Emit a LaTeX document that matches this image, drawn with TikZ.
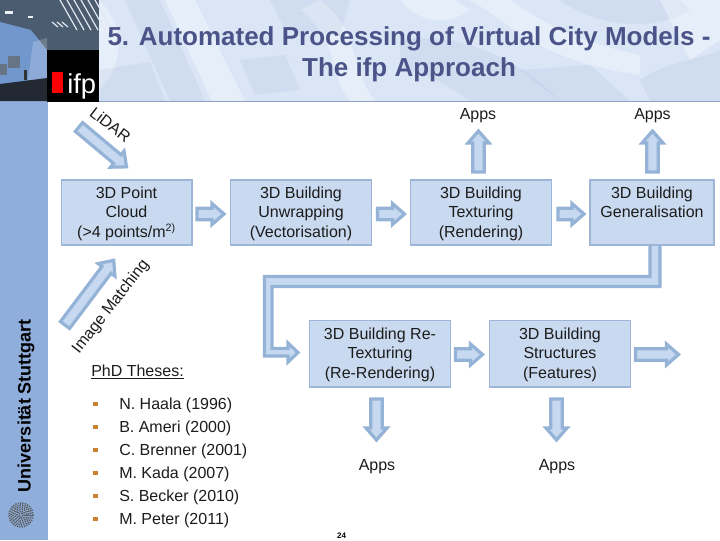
\documentclass[tikz,border=0pt]{standalone}
\usepackage{fontspec}
\setmainfont{Liberation Sans}
\definecolor{boxfill}{HTML}{C9D9EF}
\definecolor{boxline}{HTML}{9DB5D6}
\definecolor{arrfill}{HTML}{C6D9F1}
\definecolor{arrline}{HTML}{95B3D7}
\definecolor{side}{HTML}{8FAEDB}
\definecolor{banner}{HTML}{DAE5F6}
\definecolor{titlec}{HTML}{4B5488}
\definecolor{bul}{HTML}{C98232}
\definecolor{txt}{HTML}{1C1C1C}
\definecolor{ceil}{HTML}{4C5C70}
\definecolor{wall}{HTML}{7197CC}
\tikzset{
  stagebox/.style={draw=boxline,fill=boxfill,line width=1pt,inner sep=0pt},
  stagetext/.style={inner sep=0pt,align=center,text=txt,font=\fontsize{12}{14.6}\selectfont},
  lbl/.style={text=txt,inner sep=0pt,font=\fontsize{12}{14.6}\selectfont},
  arrowsty/.style={draw=arrline,fill=arrfill,line width=2.4pt,miter limit=4},
  bulletdot/.style={fill=bul,minimum size=3.6pt,inner sep=0pt},
  nameitem/.style={lbl,anchor=west},
  texa/.style={fill=white,opacity=.35,draw=none},
  texb/.style={fill=boxline,opacity=.16,draw=none},
}
% tail x, tail y, angle, length: straight block arrow
\newcommand{\blockarrow}[4]{%
  \draw[arrowsty,shift={(#1,#2)},rotate=#3]
    (0,-5.7) -- ({#4-12},-5.7) -- ({#4-12},-10.5) -- (#4,0) -- ({#4-12},10.5) -- ({#4-12},5.7) -- (0,5.7) -- cycle;}
% name, x, y, width (pt), height (pt), text
\newcommand{\stagenode}[6]{%
  \node[stagebox,minimum width=#4pt,minimum height=#5pt] (#1) at (#2,#3) {};
  \node[stagetext] (#1-text) at ([yshift=-0.75pt]#1.center) {#6};}
\begin{document}
\begin{tikzpicture}[x=0.75pt,y=-0.75pt]
\useasboundingbox (0,0) rectangle (720,540);
\fill[white] (0,0) rectangle (720,540);
% side strip
\fill[side] (0,101) rectangle (48,540);
% banner
\fill[banner] (99,0) rectangle (720,101);
\begin{scope}
\clip (99,0) rectangle (720,101);
\fill[texa] (165,0) -- (195,0) -- (245,101) -- (212,101) -- cycle;
\fill[texa] (99,0) .. controls (130,30) and (120,70) .. (99,90) -- cycle;
\fill[texb] (125,0) -- (160,0) -- (205,101) -- (170,101) -- cycle;
\fill[texb] (100,70) -- (150,62) -- (165,101) -- (100,101) -- cycle;
\fill[texb] (240,60) -- (285,55) -- (300,90) -- (255,95) -- cycle;
\fill[texa] (300,10) .. controls (340,40) and (330,80) .. (350,101) -- (375,101) .. controls (350,70) and (360,30) .. (320,0) -- cycle;
\fill[texb] (270,0) -- (350,0) -- (340,35) -- (285,30) -- cycle;
\fill[texb] (400,40) .. controls (460,30) and (520,60) .. (560,101) -- (470,101) .. controls (440,80) and (420,70) .. (400,70) -- cycle;
\fill[texa] (470,0) .. controls (520,30) and (540,60) .. (640,75) -- (640,55) .. controls (570,40) and (540,20) .. (510,0) -- cycle;
\fill[texb] (560,0) .. controls (600,30) and (660,30) .. (690,10) -- (680,0) -- cycle;
\fill[texa] (660,0) -- (720,0) -- (720,40) -- (690,60) -- cycle;
\fill[texb] (640,80) .. controls (670,60) and (700,60) .. (720,50) -- (720,101) -- (650,101) -- cycle;
\fill[texa] (400,0) .. controls (420,25) and (450,25) .. (470,10) -- (455,0) -- cycle;
\fill[texb] (520,70) -- (590,65) -- (630,101) -- (560,101) -- cycle;
\end{scope}
\draw[color=boxline!80!titlec,line width=.8pt] (48,101.5) -- (720,101.5);
% photo
\fill[ceil] (0,0) rectangle (99,101);
\fill[wall] (0,22) -- (31,30) -- (47,50) -- (47,82) -- (0,93) -- cycle;
\fill[white,opacity=.2] (33,42) -- (47,38) -- (47,80) -- (28,80) -- cycle;
\fill[color=black!55!ceil] (0,84) -- (47,78) -- (47,101) -- (0,101) -- cycle;
\fill[color=ceil!85!white] (8,56) rectangle (20,68);
\fill[color=ceil!85!white] (0,64) rectangle (7,75);
\fill[black!80] (24,70) rectangle (27,80);
\foreach \a in {60,67,74,81,88,95}
  \draw[white!70!boxline,line width=.9pt] (\a,0) -- ({\a+17},30);
\foreach \a in {52,57,62}
  \draw[white!70!boxline,line width=.9pt] (\a,22) -- ({\a+6},27);
\fill[white!80!boxline] (5,11) rectangle (13,13.5);
\fill[white!80!boxline] (28,16) rectangle (33,18);
% logo
\fill[black] (47,50) rectangle (99,101.5);
\fill[red] (52,72) rectangle (63,93);
\node[inner sep=0pt,anchor=base west,text=white,font=\fontsize{20.5}{24}\selectfont] (ifp) at (67,93) {ifp};
% title
\node[text=titlec,inner sep=0pt,align=center,font=\fontsize{19.5}{23.2}\bfseries\selectfont] (title) at (409,54) {5. Automated Processing of Virtual City Models -\\The ifp Approach};
% sidebar text
\node[rotate=90,text=black,inner sep=0pt,font=\fontsize{13.5}{15}\bfseries\selectfont] (uni) at (26,405.5) {Universität Stuttgart};
% seal
\foreach \r in {2,4,6,8,10,12}
  \draw[black!65,line width=1.2pt,dash pattern=on 0.9pt off 0.9pt] (21,515) circle (\r);
% stages
\stagenode{cloud}{126.5}{212.5}{98}{48.75}{3D Point\\Cloud\\(>4 points/m\smash{\textsuperscript{2)}}}
\stagenode{unwrap}{301}{212.5}{106}{48.75}{3D Building\\Unwrapping\\(Vectorisation)}
\stagenode{texturing}{481}{212.5}{106}{48.75}{3D Building\\Texturing\\(Rendering)}
\stagenode{general}{652}{212.5}{93}{48.75}{3D Building\\Generalisation\\\phantom{(g)}}
\stagenode{retex}{380}{353.5}{106}{50}{3D Building Re-\\Texturing\\(Re-Rendering)}
\stagenode{struct}{560}{353.5}{106}{50}{3D Building\\Structures\\(Features)}
% arrows
\blockarrow{197}{214}{0}{27}
\blockarrow{377.5}{214}{0}{27}
\blockarrow{558}{214}{0}{26}
\blockarrow{455.5}{354.5}{0}{27}
\blockarrow{635.5}{354.5}{0}{43}
\blockarrow{478.5}{172}{90}{41}
\blockarrow{652.5}{172}{90}{41}
\blockarrow{376.5}{399}{-90}{41}
\blockarrow{556.5}{399}{-90}{41}
\blockarrow{79}{127}{-40}{62}
\blockarrow{65}{325}{53}{81}
% long connector
\draw[arrowsty] (650,246) -- (650,276.5) -- (264.5,276.5) -- (264.5,356) -- (288,356) -- (288,362) -- (298,352.5) -- (288,343) -- (288,348.5) -- (272,348.5) -- (272,286.5) -- (660,286.5) -- (660,246);
% labels
\node[lbl,rotate=-37] (lidar) at (110.5,124.5) {LiDAR};
\node[lbl,rotate=52] (match) at (111,307) {Image Matching};
\node[lbl] (a1) at (478,116) {Apps};
\node[lbl] (a2) at (652.5,116) {Apps};
\node[lbl] (a3) at (377,467) {Apps};
\node[lbl] (a4) at (557,467) {Apps};
\node[lbl,anchor=west] (phd) at (91,372) {\underline{PhD Theses:}};
\foreach \y/\t/\n in {405/N. Haala (1996)/i1,428/B. Ameri (2000)/i2,451/C. Brenner (2001)/i3,474/M. Kada (2007)/i4,497/S. Becker (2010)/i5,520/M. Peter (2011)/i6}{
  \node[nameitem] (\n) at (119,\y) {\t};
}
\foreach \y/\n in {404/i1,427/i2,450/i3,473/i4,496/i5,519/i6}{
  \node[bulletdot] (b\n) at (95.5,\y) {};
}
\node[inner sep=0pt,text=black,font=\fontsize{6}{7}\bfseries\selectfont] (page) at (341.5,536) {24};
\end{tikzpicture}
\end{document}
